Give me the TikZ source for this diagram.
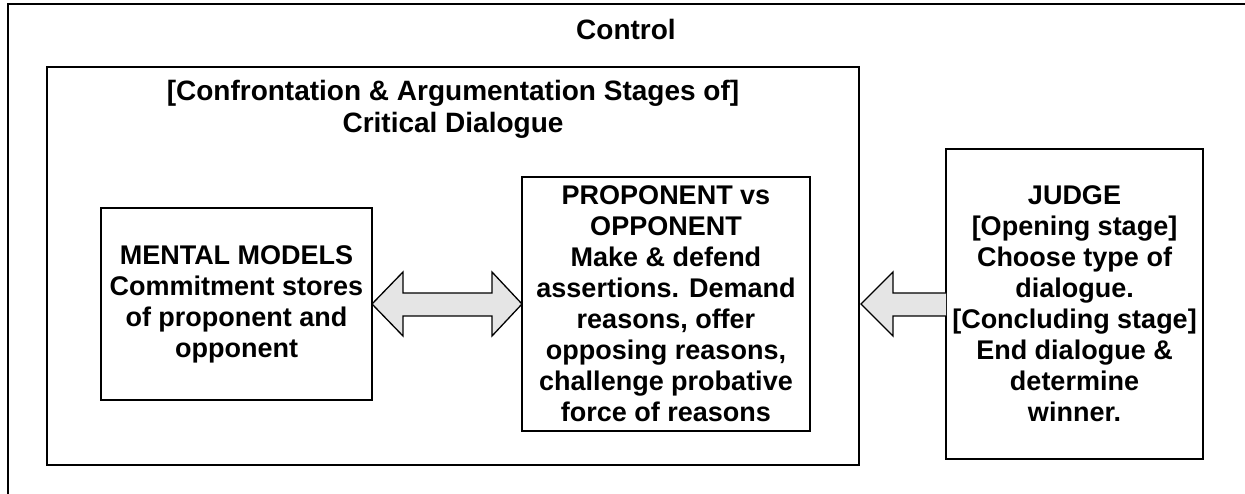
\documentclass[tikz,border=0pt]{standalone}
\usepackage{fontspec}
\setmainfont{Liberation Sans}
\begin{document}
\begin{tikzpicture}[x=1pt,y=-1pt,
  box/.style={draw=black,line width=1.6pt},
  bodytext/.style={font=\fontsize{27}{31}\selectfont\bfseries,align=center,text=black,inner sep=0pt},
  titletext/.style={font=\fontsize{28}{32}\selectfont\bfseries,align=center,text=black,inner sep=0pt},
  fatarrow/.style={draw=black,line width=1.3pt,fill=black!10,line join=miter}]
\useasboundingbox (0,0) rectangle (1245,494);
% outer control frame, open at right and bottom
\draw[line width=1.8pt] (8,494) -- (8,4) -- (1245,4);
\node[titletext,anchor=base] (control) at (626,40) {Control};
% critical dialogue frame
\draw[box] (47,67) rectangle (859,465);
\node[titletext,anchor=base] (cdtitle) at (453,101) {[Confrontation \& Argumentation Stages of]};
\node[titletext,anchor=base] (cdtitle2) at (453,133) {Critical Dialogue};
% mental models
\draw[box] (101,208) rectangle (372,400);
\node[bodytext] (mental) at (236.5,304) {MENTAL MODELS\\Commitment stores\\of proponent and\\opponent};
% proponent vs opponent
\draw[box] (522,177) rectangle (810,431);
\node[bodytext] (prop) at (666,304) {PROPONENT vs\\OPPONENT\\Make \& defend\\assertions. Demand\\reasons, offer\\opposing reasons,\\challenge probative\\force of reasons};
% judge
\draw[box] (946,149) rectangle (1203,459);
\node[bodytext] (judge) at (1074.5,304) {JUDGE\\[0pt][Opening stage]\\Choose type of\\dialogue.\\[0pt][Concluding stage]\\End dialogue \&\\determine\\winner.};
% double arrow between mental models and proponent/opponent
\draw[fatarrow] (372,304) -- (403,272) -- (403,293) -- (492,293) -- (492,272) -- (522,304)
  -- (492,336) -- (492,316) -- (403,316) -- (403,336) -- cycle;
% arrow from judge into the dialogue
\fill[black!10] (861,304) -- (893,272) -- (893,293) -- (946,293) -- (946,316) -- (893,316) -- (893,336) -- cycle;
\draw[fatarrow,fill=none] (946,293) -- (893,293) -- (893,272) -- (861,304) -- (893,336) -- (893,316) -- (946,316);
\end{tikzpicture}
\end{document}
